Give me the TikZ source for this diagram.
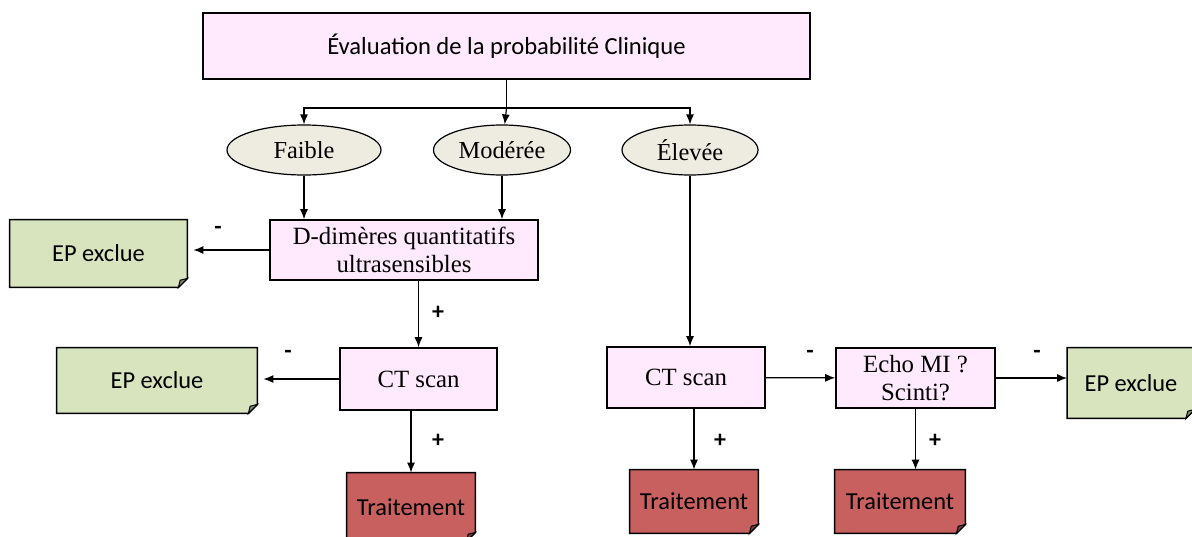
\documentclass[tikz,border=0pt]{standalone}
\usepackage{fontspec}
\setmainfont{Liberation Serif}
\newfontfamily\calibri{Carlito}
\usetikzlibrary{arrows.meta,shapes.geometric}
\definecolor{pinkfill}{HTML}{FFE9FD}
\definecolor{tanfill}{HTML}{EEECE1}
\definecolor{greenfill}{HTML}{D7E4BD}
\definecolor{redfill}{HTML}{C96060}

% folded corner at the bottom right of a box
\newcommand{\dogear}[2]{%
  \fill[white] ([yshift=4.5pt]#1.south east) -- ([xshift=1pt,yshift=-1pt]#1.south east) -- ([xshift=-4.5pt]#1.south east) -- cycle;
  \draw[line width=0.8pt] (#1.north west) -- (#1.north east) -- ([yshift=4.5pt]#1.south east)
    -- ([xshift=-4.5pt]#1.south east) -- (#1.south west) -- cycle;
  \draw[line width=0.5pt,fill=#2!60!black] ([xshift=-4.5pt]#1.south east) -- ([xshift=-3.6pt,yshift=3.6pt]#1.south east) -- ([yshift=4.5pt]#1.south east) -- cycle;
}

\begin{document}
\begin{tikzpicture}[x=0.5pt,y=-0.5pt,
    box/.style={draw,line width=0.8pt,fill=pinkfill,align=center,inner sep=1pt,font=\fontsize{12.4}{14}\selectfont},
    level/.style={ellipse,draw,line width=0.6pt,fill=tanfill,inner sep=0pt,font=\fontsize{12.2}{14}\selectfont},
    note/.style={fill=#1,inner sep=1pt,font=\calibri\fontsize{12.2}{14}\selectfont},
    arr/.style={-{Latex[length=5pt,width=4pt]},line width=0.6pt},
    sign/.style={font=\calibri\bfseries\fontsize{12}{14}\selectfont}]
  \useasboundingbox (0,0) rectangle (1192,536);

  % top and the three levels
  \node[box,font=\calibri\fontsize{12.3}{14}\selectfont,minimum width=303.5pt,minimum height=33pt] (eval) at (506.5,46) {Évaluation de la probabilité Clinique};
  \node[level,minimum width=77pt,minimum height=25pt] (faible) at (304,150) {Faible};
  \node[level,minimum width=68.5pt,minimum height=25pt] (moderee) at (502,150) {Modérée};
  \node[level,minimum width=68pt,minimum height=25pt] (elevee) at (690,150) {Élevée};

  % boxes
  \node[box,minimum width=134pt,minimum height=30pt] (ddim) at (404,250) {D-dimères quantitatifs\\ultrasensibles};
  \node[box,minimum width=78.5pt,minimum height=31pt] (ctA) at (418.5,379) {CT scan};
  \node[box,minimum width=79pt,minimum height=30.5pt] (ctB) at (686,377.5) {CT scan};
  \node[box,minimum width=79.5pt,minimum height=30pt] (echo) at (915.5,378) {Echo MI ?\\Scinti?};

  \node[note=greenfill,minimum width=88.5pt,minimum height=33.5pt] (exclA) at (98.5,253.5) {EP exclue};
  \node[note=greenfill,minimum width=100pt,minimum height=32.5pt] (exclB) at (157,380.5) {EP exclue};
  \node[note=greenfill,minimum width=63.5pt,minimum height=35pt] (exclC) at (1131,383) {EP exclue};
  \node[note=redfill,minimum width=64pt,minimum height=34pt] (traitA) at (411,507) {Traitement};
  \node[note=redfill,minimum width=64pt,minimum height=31.5pt] (traitB) at (694,501.5) {Traitement};
  \node[note=redfill,minimum width=65pt,minimum height=31.5pt] (traitC) at (900,501.5) {Traitement};
  \foreach \n/\c in {exclA/greenfill,exclB/greenfill,exclC/greenfill,traitA/redfill,traitB/redfill,traitC/redfill}
    \dogear{\n}{\c};

  % connectors
  \coordinate (fork) at (506.5,108);
  \draw[line width=0.6pt] (eval) -- (fork);
  \draw[arr] (fork) -| (faible);
  \draw[arr] (fork) -- (moderee);
  \draw[arr] (fork) -| (elevee);
  \draw[arr] (faible) -- (faible |- ddim.north);
  \draw[arr] (moderee) -- (moderee |- ddim.north);
  \draw[arr] (elevee) -- (elevee |- ctB.north);
  \draw[arr,shorten >=3pt] (ddim.west) -- (exclA.east |- ddim.west);
  \draw[arr] (ddim.south -| ctA) -- (ctA);
  \draw[arr,shorten >=3pt] (ctA.west) -- (exclB.east |- ctA.west);
  \draw[arr] (ctA.south -| traitA) -- (traitA);
  \draw[arr] (ctB) -- (echo);
  \draw[arr] (echo) -- (exclC.west |- echo);
  \draw[arr] (ctB.south -| traitB) -- (traitB);
  \draw[arr] (echo) -- (echo |- traitC.north);

  % signs
  \node[sign] (m1) at (218,230) {-};
  \node[sign] (m2) at (288,354) {-};
  \node[sign] (m3) at (810,354) {-};
  \node[sign] (m4) at (1037,354) {-};
  \node[sign] (p1) at (438,313) {+};
  \node[sign] (p2) at (438,441) {+};
  \node[sign] (p3) at (720,441) {+};
  \node[sign] (p4) at (935,441) {+};
\end{tikzpicture}
\end{document}
